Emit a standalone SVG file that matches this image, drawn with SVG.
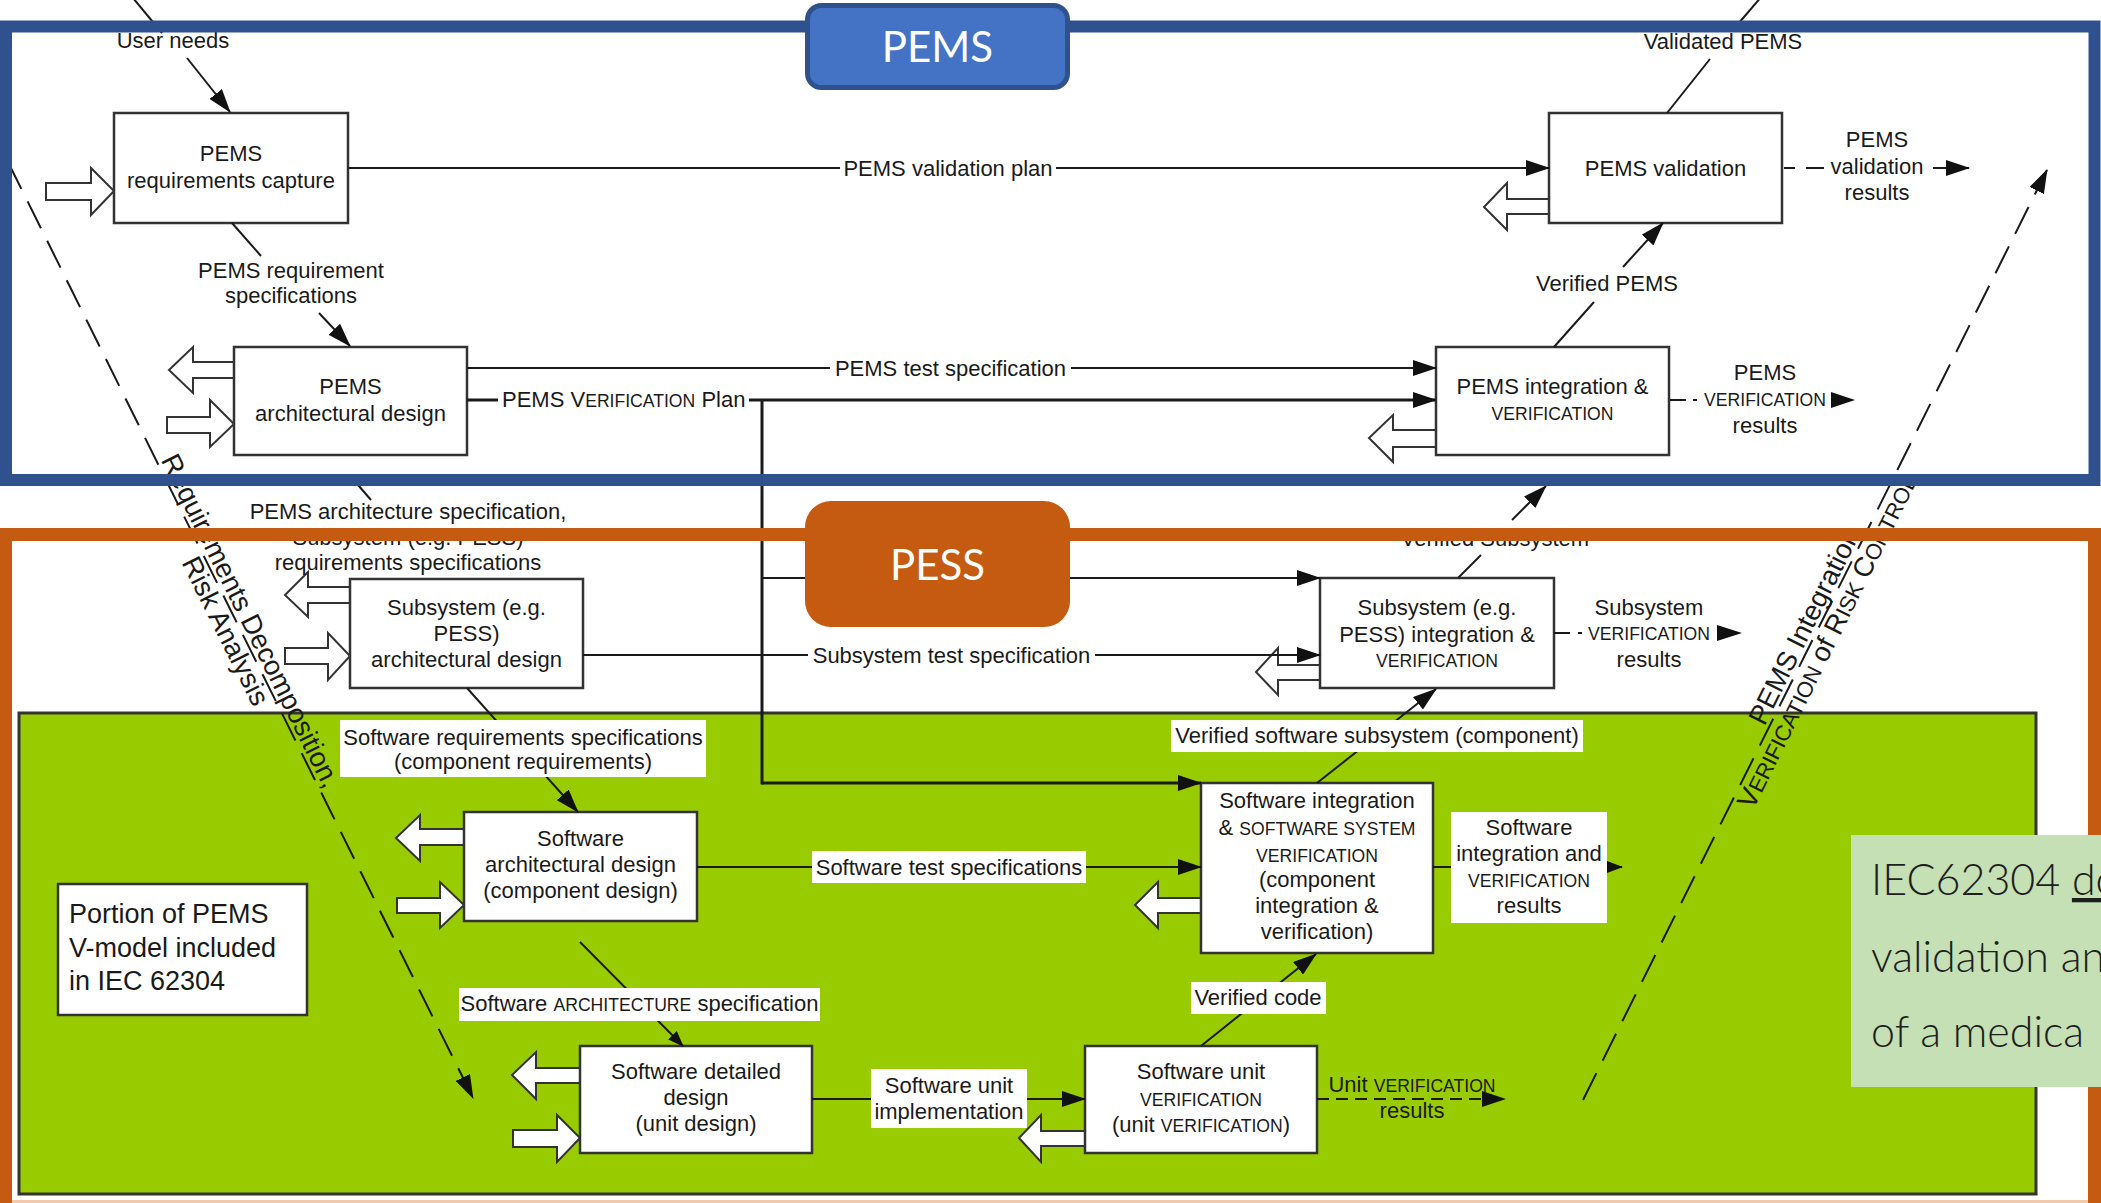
<svg xmlns="http://www.w3.org/2000/svg" width="2101" height="1203" viewBox="0 0 2101 1203">
<defs>
<style>
.t{font-family:"Liberation Sans",Arial,sans-serif;font-size:22px;fill:#1a1a1a}
.m{text-anchor:middle}
.sc{font-size:17.6px}
.big{font-size:27px}
.dg{font-size:27.5px}
.dsc{font-size:22px}
.box{fill:#fff;stroke:#333;stroke-width:2.5}
.ha{fill:#fff;stroke:#333;stroke-width:2}
.ln{fill:none;stroke:#1a1a1a;stroke-width:2}
.thk{stroke-width:3}
.dash{stroke-dasharray:30 14}
.lbl{fill:#fff}
.tag{font-family:Lato,"Open Sans",sans-serif;font-size:42px;fill:#fff;text-anchor:middle}
.note{font-family:Lato,"Open Sans",sans-serif;font-weight:300;font-size:43px;fill:#1e1e1e}
</style>
<marker id="ah" viewBox="0 0 24 16" markerWidth="24" markerHeight="16" refX="23" refY="8" orient="auto" markerUnits="userSpaceOnUse"><path d="M0,0 L24,8 L0,16 Z" fill="#111"/></marker>
<marker id="ahs" viewBox="0 0 16 12" markerWidth="16" markerHeight="12" refX="15" refY="6" orient="auto" markerUnits="userSpaceOnUse"><path d="M0,0 L16,6 L0,12 Z" fill="#111"/></marker>
</defs>

<rect width="2101" height="1203" fill="#fff"/>

<!-- software (IEC 62304) area -->
<rect id="software-area" x="19" y="713" width="2017" height="481" fill="#99CC00" stroke="#333" stroke-width="3"/>

<!-- process boxes -->
<g id="pems-requirements-capture">
<polygon class="ha" points="46,183 91,183 91,168 114,191 91,215 91,200 46,200"/>
<rect class="box" x="114" y="113" width="234" height="110"/>
<text class="t m" x="231" y="161">PEMS</text>
<text class="t m" x="231" y="188">requirements capture</text>
</g>

<g id="pems-architectural-design">
<polygon class="ha" points="234,362 193,362 193,347 169,370 193,393 193,378 234,378"/>
<polygon class="ha" points="167,417 210,417 210,400 234,424 210,447 210,433 167,433"/>
<rect class="box" x="234" y="347" width="233" height="108"/>
<text class="t m" x="350.5" y="394">PEMS</text>
<text class="t m" x="350.5" y="421">architectural design</text>
</g>

<g id="pems-validation">
<polygon class="ha" points="1549,199 1507,199 1507,183 1484,207 1507,230 1507,214 1549,214"/>
<rect class="box" x="1549" y="113" width="233" height="110"/>
<text class="t m" x="1665.5" y="176">PEMS validation</text>
</g>

<g id="pems-integration-verification">
<polygon class="ha" points="1436,430 1393,430 1393,415 1369,438 1393,462 1393,447 1436,447"/>
<rect class="box" x="1436" y="347" width="233" height="108"/>
<text class="t m" x="1552.5" y="394">PEMS integration &amp;</text>
<text class="t m sc" x="1552.5" y="420">VERIFICATION</text>
</g>

<g id="subsystem-architectural-design">
<polygon class="ha" points="350,587 308,587 308,572 285,595 308,617 308,603 350,603"/>
<polygon class="ha" points="285,648 328,648 328,633 350,656 328,680 328,664 285,664"/>
<rect class="box" x="350" y="579" width="233" height="109"/>
<text class="t m" x="466.5" y="615">Subsystem (e.g.</text>
<text class="t m" x="466.5" y="641">PESS)</text>
<text class="t m" x="466.5" y="667">architectural design</text>
</g>

<g id="subsystem-integration-verification">
<polygon class="ha" points="1320,665 1278,665 1278,648 1256,672 1278,695 1278,680 1320,680"/>
<rect class="box" x="1320" y="578" width="234" height="110"/>
<text class="t m" x="1437" y="615">Subsystem (e.g.</text>
<text class="t m" x="1437" y="642">PESS) integration &amp;</text>
<text class="t m sc" x="1437" y="667">VERIFICATION</text>
</g>

<g id="software-architectural-design">
<polygon class="ha" points="464,829 420,829 420,815 396,838 420,861 420,845 464,845"/>
<polygon class="ha" points="397,898 440,898 440,882 464,905 440,928 440,913 397,913"/>
<rect class="box" x="464" y="812" width="233" height="109"/>
<text class="t m" x="580.5" y="846">Software</text>
<text class="t m" x="580.5" y="872">architectural design</text>
<text class="t m" x="580.5" y="898">(component design)</text>
</g>

<g id="v-model-portion">
<rect class="box" x="58" y="884" width="249" height="131"/>
<text class="t big" x="69" y="923">Portion of PEMS</text>
<text class="t big" x="69" y="957">V-model included</text>
<text class="t big" x="69" y="990">in IEC 62304</text>
</g>

<g id="software-integration">
<polygon class="ha" points="1201,898 1158,898 1158,882 1135,905 1158,928 1158,913 1201,913"/>
<rect class="box" x="1201" y="783" width="232" height="170"/>
<text class="t m" x="1317" y="808">Software integration</text>
<text class="t m" x="1317" y="835">&amp; <tspan class="sc">SOFTWARE SYSTEM</tspan></text>
<text class="t m sc" x="1317" y="862">VERIFICATION</text>
<text class="t m" x="1317" y="887">(component</text>
<text class="t m" x="1317" y="913">integration &amp;</text>
<text class="t m" x="1317" y="939">verification)</text>
</g>

<g id="software-detailed-design">
<polygon class="ha" points="580,1068 536,1068 536,1052 512,1075 536,1099 536,1083 580,1083"/>
<polygon class="ha" points="513,1130 557,1130 557,1115 580,1138 557,1162 557,1147 513,1147"/>
<rect class="box" x="580" y="1046" width="232" height="107"/>
<text class="t m" x="696" y="1079">Software detailed</text>
<text class="t m" x="696" y="1105">design</text>
<text class="t m" x="696" y="1131">(unit design)</text>
</g>

<g id="software-unit-verification">
<polygon class="ha" points="1085,1131 1041,1131 1041,1115 1019,1138 1041,1162 1041,1146 1085,1146"/>
<rect class="box" x="1085" y="1046" width="232" height="107"/>
<text class="t m" x="1201" y="1079">Software unit</text>
<text class="t m sc" x="1201" y="1106">VERIFICATION</text>
<text class="t m" x="1201" y="1132">(unit <tspan class="sc">VERIFICATION</tspan>)</text>
</g>

<!-- connectors -->
<g id="connectors">
<line class="ln" x1="133" y1="-2" x2="162" y2="33"/>
<line class="ln" x1="187" y1="58" x2="230" y2="112" marker-end="url(#ah)"/>
<line class="ln" x1="232" y1="223" x2="261" y2="256"/>
<line class="ln" x1="319" y1="313" x2="350" y2="346" marker-end="url(#ah)"/>
<line class="ln" x1="348" y1="168" x2="840" y2="168"/>
<line class="ln" x1="1056" y1="168" x2="1549" y2="168" marker-end="url(#ah)"/>
<line class="ln" x1="1667" y1="113" x2="1710" y2="59"/>
<line class="ln" x1="1738" y1="24" x2="1762" y2="-4"/>
<line class="ln" x1="1554" y1="347" x2="1594" y2="302"/>
<line class="ln" x1="1623" y1="267" x2="1663" y2="223" marker-end="url(#ah)"/>
<line class="ln" x1="1784" y1="168" x2="1795" y2="168"/>
<line class="ln" x1="1806" y1="168" x2="1824" y2="168"/>
<line class="ln" x1="1933" y1="168" x2="1969" y2="168" marker-end="url(#ah)"/>
<line class="ln" x1="467" y1="368" x2="830" y2="368"/>
<line class="ln" x1="1071" y1="368" x2="1436" y2="368" marker-end="url(#ah)"/>
<line class="ln thk" x1="467" y1="400" x2="498" y2="400"/>
<line class="ln thk" x1="749" y1="400" x2="1436" y2="400" marker-end="url(#ah)"/>
<line class="ln thk" x1="762" y1="400" x2="762" y2="784.5"/>
<line class="ln" x1="762" y1="578" x2="1320" y2="578" marker-end="url(#ah)"/>
<line class="ln thk" x1="762" y1="783" x2="1201" y2="783" marker-end="url(#ah)"/>
<line class="ln" x1="1670" y1="400" x2="1686" y2="400"/>
<line class="ln" x1="1693" y1="400" x2="1697" y2="400"/>
<path d="M1831,392 L1855,400 L1831,408 Z" fill="#111"/>
<line class="ln" x1="352" y1="478" x2="371" y2="500"/>
<line class="ln" x1="1458" y1="578" x2="1481" y2="555"/>
<line class="ln" x1="1512" y1="520" x2="1546" y2="486" marker-end="url(#ah)"/>
<line class="ln" x1="583" y1="655" x2="808" y2="655"/>
<line class="ln" x1="1095" y1="655" x2="1320" y2="655" marker-end="url(#ah)"/>
<line class="ln" x1="1554" y1="633" x2="1570" y2="633"/>
<line class="ln" x1="1578" y1="633" x2="1582" y2="633"/>
<path d="M1717,625 L1742,633 L1717,641 Z" fill="#111"/>
<line class="ln" x1="467" y1="688" x2="578" y2="812" marker-end="url(#ah)"/>
<line class="ln" x1="697" y1="867" x2="1201" y2="867" marker-end="url(#ah)"/>
<line class="ln" x1="1317" y1="783" x2="1436" y2="689" marker-end="url(#ah)"/>
<line class="ln" x1="1433" y1="867" x2="1622" y2="867" marker-end="url(#ahs)"/>
<line class="ln" x1="580" y1="942" x2="683" y2="1046" marker-end="url(#ahs)"/>
<line class="ln" x1="812" y1="1099" x2="1085" y2="1099" marker-end="url(#ah)"/>
<line class="ln" x1="1201" y1="1046" x2="1316" y2="954" marker-end="url(#ah)"/>
<line class="ln" x1="1317" y1="1099" x2="1505" y2="1099" stroke-dasharray="12 7" marker-end="url(#ah)"/>
<line class="ln dash" x1="8" y1="162" x2="473" y2="1098" marker-end="url(#ah)"/>
<line class="ln dash" x1="1583" y1="1100" x2="2047" y2="170" marker-end="url(#ah)"/>
</g>

<!-- connector labels -->
<g id="labels">
<text class="t m" x="173" y="48">User needs</text>
<text class="t m" x="1723" y="49">Validated PEMS</text>
<text class="t m" x="291" y="278">PEMS requirement</text>
<text class="t m" x="291" y="303">specifications</text>
<text class="t m" x="948" y="176">PEMS validation plan</text>
<text class="t m" x="1607" y="291">Verified PEMS</text>
<text class="t m" x="1877" y="147">PEMS</text>
<text class="t m" x="1877" y="174">validation</text>
<text class="t m" x="1877" y="200">results</text>
<text class="t m" x="950.5" y="376">PEMS test specification</text>
<text class="t" x="502" y="407">PEMS V<tspan class="sc">ERIFICATION</tspan> Plan</text>
<text class="t m" x="1765" y="380">PEMS</text>
<text class="t m sc" x="1765" y="406">VERIFICATION</text>
<text class="t m" x="1765" y="433">results</text>
<text class="t m" x="408" y="519">PEMS architecture specification,</text>
<text class="t m" x="408" y="545">Subsystem (e.g. PESS)</text>
<text class="t m" x="408" y="570">requirements specifications</text>
<text class="t m" x="1495" y="546">Verified Subsystem</text>
<text class="t m" x="951.5" y="663">Subsystem test specification</text>
<text class="t m" x="1649" y="615">Subsystem</text>
<text class="t m sc" x="1649" y="640">VERIFICATION</text>
<text class="t m" x="1649" y="667">results</text>

<rect class="lbl" x="340" y="720" width="366" height="57"/>
<text class="t m" x="523" y="745">Software requirements specifications</text>
<text class="t m" x="523" y="769">(component requirements)</text>
<rect class="lbl" x="1171" y="720" width="412" height="32"/>
<text class="t m" x="1377" y="743">Verified software subsystem (component)</text>
<rect class="lbl" x="812" y="851" width="274" height="32"/>
<text class="t m" x="949" y="875">Software test specifications</text>
<rect class="lbl" x="1451" y="812" width="156" height="111"/>
<text class="t m" x="1529" y="835">Software</text>
<text class="t m" x="1529" y="861">integration and</text>
<text class="t m sc" x="1529" y="887">VERIFICATION</text>
<text class="t m" x="1529" y="913">results</text>
<rect class="lbl" x="459" y="988" width="361" height="33"/>
<text class="t m" x="639.5" y="1011">Software <tspan class="sc">ARCHITECTURE</tspan> specification</text>
<rect class="lbl" x="1191" y="982" width="135" height="32"/>
<text class="t m" x="1258" y="1005">Verified code</text>
<rect class="lbl" x="871" y="1069" width="156" height="59"/>
<text class="t m" x="949" y="1093">Software unit</text>
<text class="t m" x="949" y="1119">implementation</text>
<text class="t m" x="1412" y="1092">Unit <tspan class="sc">VERIFICATION</tspan></text>
<text class="t m" x="1412" y="1118">results</text>

<!-- labels along the two sides of the V -->
<text class="t dg" transform="translate(160.6 460) rotate(63.6)">Requirements Decomposition,</text>
<text class="t dg" transform="translate(181.3 562.6) rotate(63.6)">Risk Analysis</text>
<text class="t dg" transform="translate(1764.4 726.8) rotate(-63.5)">PEMS Integration,</text>
<text class="t dg" transform="translate(1753 810.5) rotate(-63.5)">V<tspan class="dsc">ERIFICATION</tspan> of R<tspan class="dsc">ISK</tspan> C<tspan class="dsc">ONTROL</tspan></text>
</g>

<!-- PEMS and PESS frames -->
<g id="frames">
<rect x="6" y="26.5" width="2088.5" height="453.5" fill="none" stroke="#2F528F" stroke-width="12"/>
<rect x="5.5" y="534.5" width="2089" height="690" fill="none" stroke="#C55A11" stroke-width="13"/>
<line x1="12" y1="1201.5" x2="2088" y2="1201.5" stroke="#F3C9AB" stroke-width="3"/>
</g>

<g id="tag-pems">
<rect x="807.5" y="5.5" width="260" height="82" rx="14" fill="#4472C4" stroke="#2F528F" stroke-width="5"/>
<text class="tag" x="937.5" y="62">PEMS</text>
</g>

<g id="tag-pess">
<rect x="805" y="501" width="265" height="126" rx="26" fill="#C55A11"/>
<text class="tag" x="937.5" y="580">PESS</text>
</g>

<g id="callout">
<rect x="1851" y="835" width="260" height="252" fill="#C5E0B4"/>
<text class="note" x="1871" y="895">IEC62304 <tspan text-decoration="underline">do</tspan></text>
<text class="note" x="1871" y="972">validation an</text>
<text class="note" x="1871" y="1047">of a medica</text>
</g>
</svg>
